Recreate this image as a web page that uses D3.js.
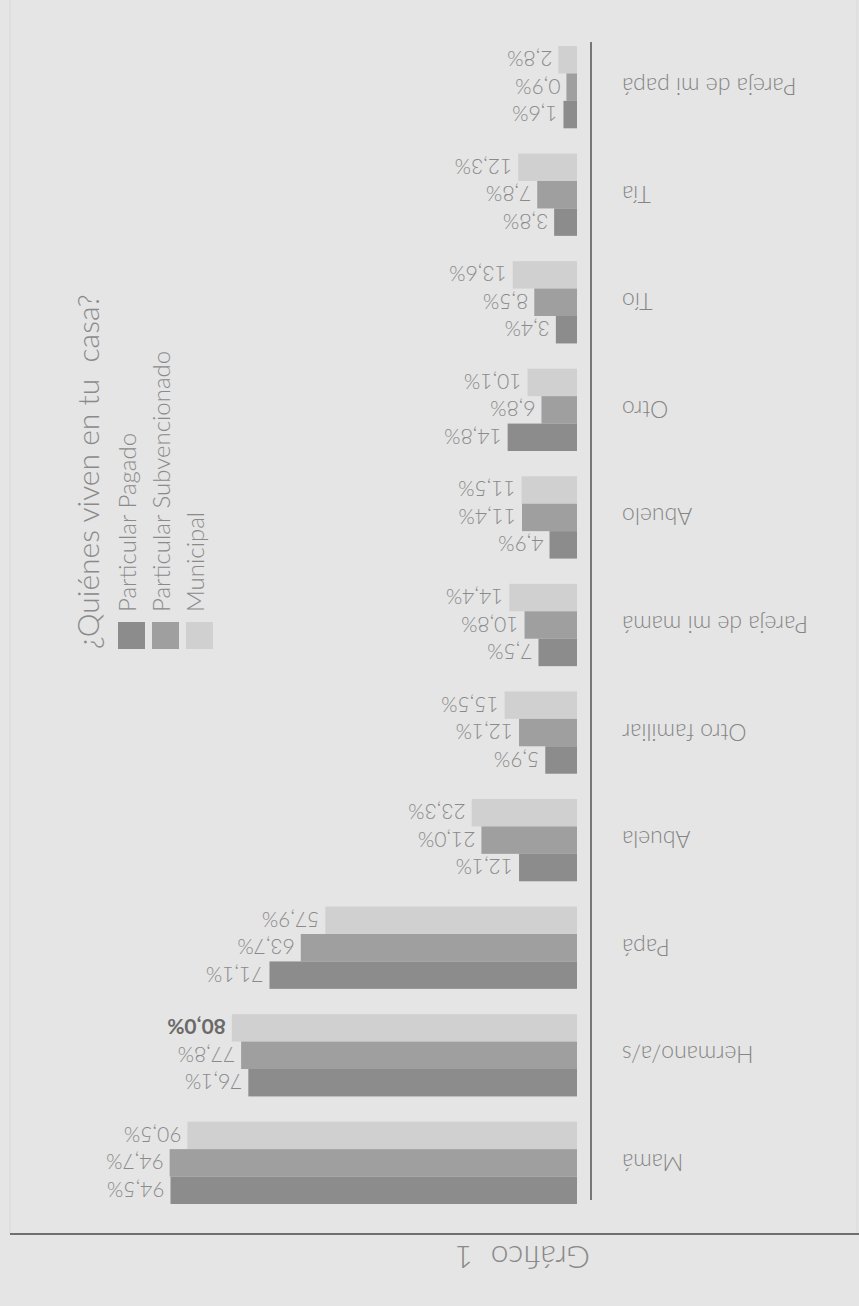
<!DOCTYPE html>
<html>
<head>
<meta charset="utf-8">
<script src="https://cdn.jsdelivr.net/npm/d3@7"></script>
<style>
  html, body { margin: 0; padding: 0; background: #e5e5e5; }
  svg { display: block; font-family: Lato, "Open Sans", sans-serif; font-weight: 300; }
</style>
</head>
<body>
<svg id="chart" width="859" height="1306"></svg>
<script>
// the original picture is printed upside down, so everything is laid out as it appears

const categories = [
  'Pareja de mi papá', 'Tía', 'Tío', 'Otro', 'Abuelo', 'Pareja de mi mamá',
  'Otro familiar', 'Abuela', 'Papá', 'Hermano/a/s', 'Mamá'
];

const seriesNames = ['Municipal', 'Particular Subvencionado', 'Particular Pagado'];

const municipal     = [2.8, 12.3, 13.6, 10.1, 11.5, 14.4, 15.5, 23.3, 57.9, 80.0, 90.5];
const subvencionado = [0.9, 7.8, 8.5, 6.8, 11.4, 10.8, 12.1, 21.0, 63.7, 77.8, 94.7];
const pagado        = [1.6, 3.8, 3.4, 14.8, 4.9, 7.5, 5.9, 12.1, 71.1, 76.1, 94.5];

const legendOrder = ['Particular Pagado', 'Particular Subvencionado', 'Municipal'];
const highlighted = [{ category: 'Hermano/a/s', series: 'Municipal' }];

const title = '¿Quiénes viven en tu  casa?';
const caption = 'Gráfico 1';

const colors = {
  'Particular Pagado': '#8c8c8c',
  'Particular Subvencionado': '#9f9f9f',
  'Municipal': '#d0d0d0'
};

const width = 859, height = 1306;
const svg = d3.select('#chart');

const seriesValues = {
  'Municipal': municipal,
  'Particular Subvencionado': subvencionado,
  'Particular Pagado': pagado
};

// frame
svg.append('rect')
  .attr('x', 10).attr('y', -2)
  .attr('width', 847).attr('height', 1236)
  .attr('fill', '#e5e5e5')
  .attr('stroke', '#dadada');

svg.append('line')
  .attr('x1', 10).attr('x2', width)
  .attr('y1', 1234).attr('y2', 1234)
  .attr('stroke', '#6f6f6f')
  .attr('stroke-width', 2);

svg.append('text')
  .attr('transform', 'translate(590,1258) rotate(180)')
  .attr('dominant-baseline', 'central')
  .attr('font-size', 32)
  .attr('fill', '#8a8a8a')
  .attr('xml:space', 'preserve')
  .text(caption.replace(' ', '  '));

// scales
const y = d3.scaleBand()
  .domain(categories)
  .range([46, 1204])
  .paddingInner(0.235)
  .paddingOuter(0);

const ySub = d3.scaleBand()
  .domain(seriesNames)
  .range([0, y.bandwidth()]);

const x = d3.scaleLinear()
  .domain([-1.6, 100])
  .range([577, 577 - 4.23 * 101.6]);

// value axis line
svg.append('line')
  .attr('x1', 591).attr('x2', 591)
  .attr('y1', 42).attr('y2', 1200)
  .attr('stroke', '#777')
  .attr('stroke-width', 2);

const groups = svg.selectAll('g.group')
  .data(categories)
  .join('g')
  .attr('class', 'group')
  .attr('transform', d => `translate(0,${y(d)})`);

const cells = groups.selectAll('g.cell')
  .data((c, i) => seriesNames.map(s => ({ category: c, series: s, value: seriesValues[s][i] })))
  .join('g')
  .attr('class', 'cell');

cells.append('rect')
  .attr('x', d => x(d.value))
  .attr('y', d => ySub(d.series))
  .attr('width', d => x(x.domain()[0]) - x(d.value))
  .attr('height', ySub.bandwidth())
  .attr('fill', d => colors[d.series]);

const fmt = v => d3.format('.1f')(v).replace('.', ',') + '%';
const isHi = d => highlighted.some(h => h.category === d.category && h.series === d.series);

cells.append('text')
  .attr('transform', d => `translate(${x(d.value) - 6},${ySub(d.series) + ySub.bandwidth() / 2}) rotate(180)`)
  .attr('dominant-baseline', 'central')
  .attr('font-size', 21)
  .attr('fill', d => isHi(d) ? '#6a6a6a' : '#8a8a8a')
  .attr('font-weight', d => isHi(d) ? 700 : 300)
  .text(d => fmt(d.value));

// category labels
svg.selectAll('text.cat')
  .data(categories)
  .join('text')
  .attr('class', 'cat')
  .attr('transform', d => `translate(622,${y(d) + y.bandwidth() / 2}) rotate(180)`)
  .attr('text-anchor', 'end')
  .attr('dominant-baseline', 'central')
  .attr('font-size', 23)
  .attr('fill', '#858585')
  .text(d => d);

// title
svg.append('text')
  .attr('transform', 'translate(99,649) rotate(-90)')
  .attr('font-size', 30)
  .attr('fill', '#8a8a8a')
  .attr('xml:space', 'preserve')
  .text(title);

// legend
const legend = svg.selectAll('g.legend')
  .data(legendOrder)
  .join('g')
  .attr('class', 'legend')
  .attr('transform', (d, i) => `translate(${118 + i * 34},0)`);

legend.append('rect')
  .attr('x', 0).attr('y', 622)
  .attr('width', 27).attr('height', 27)
  .attr('fill', d => colors[d]);

legend.append('text')
  .attr('transform', 'translate(18,612) rotate(-90)')
  .attr('font-size', 24)
  .attr('fill', '#8a8a8a')
  .text(d => d);
</script>
</body>
</html>
